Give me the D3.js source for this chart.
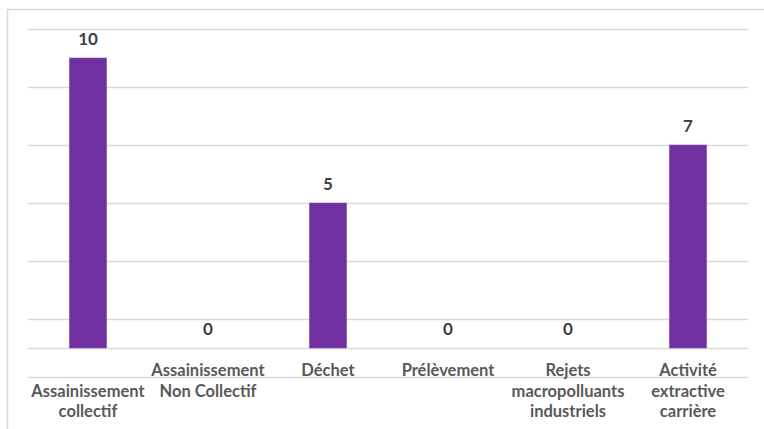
<!DOCTYPE html>
<html>
<head>
<meta charset="utf-8">
<script src="https://cdn.jsdelivr.net/npm/d3@7"></script>
<style>
  html, body { margin: 0; padding: 0; background: #fff; }
  svg { display: block; }
</style>
</head>
<body>
<svg id="chart" width="764" height="429"></svg>
<script>
// ---- data ----
const categories = [
  "Assainissement collectif",
  "Assainissement Non Collectif",
  "Déchet",
  "Prélèvement",
  "Rejets macropolluants industriels",
  "Activité extractive carrière"
];
// wrapped label lines as shown in the picture (first label sits one line lower)
const categoryLines = [
  ["", "Assainissement", "collectif"],
  ["Assainissement", "Non Collectif"],
  ["Déchet"],
  ["Prélèvement"],
  ["Rejets", "macropolluants", "industriels"],
  ["Activité", "extractive", "carrière"]
];
const values = [10, 0, 5, 0, 0, 7];
const gridValues = [-1, 1, 3, 5, 7, 9, 11];
const yDomain = [-1, 11];

// ---- layout ----
const W = 764, H = 429;
const plot = { left: 28, right: 748, top: 29, bottom: 377 };
const svg = d3.select("#chart");
const font = "Lato, 'Open Sans', sans-serif";

// frame
svg.append("path")
  .attr("d", `M7.5,${H} V9.5 H${W}`)
  .attr("fill", "none").attr("stroke", "#d9d9d9").attr("stroke-width", 1.5);

const x = d3.scaleBand().domain(categories).range([plot.left, plot.right]).paddingInner(0).paddingOuter(0);
const y = d3.scaleLinear().domain(yDomain).range([plot.bottom, plot.top]);

// gridlines
const grid = svg.append("g").attr("transform", `translate(${plot.left},0)`)
  .call(d3.axisLeft(y).tickValues(gridValues).tickSize(-(plot.right - plot.left)).tickFormat(""));
grid.select(".domain").remove();
grid.selectAll(".tick line").attr("stroke", "#d9d9d9").attr("stroke-width", 1.3);

// zero axis line
const xAxis = svg.append("g").attr("transform", `translate(0,${y(0)})`)
  .call(d3.axisBottom(x).tickSize(0).tickFormat(""));
xAxis.select(".domain").attr("stroke", "#d9d9d9").attr("stroke-width", 1.3);

// bars
const barW = x.bandwidth() * 0.31;
svg.append("g").selectAll("rect").data(values).join("rect")
  .attr("x", (d, i) => x(categories[i]) + (x.bandwidth() - barW) / 2)
  .attr("width", barW)
  .attr("y", d => y(Math.max(d, 0)))
  .attr("height", d => Math.abs(y(d) - y(0)))
  .attr("fill", "#7030a0")
  .attr("stroke", "#8a55b5").attr("stroke-width", 0.6);

// value labels
svg.append("g").selectAll("text").data(values).join("text")
  .attr("x", (d, i) => x(categories[i]) + x.bandwidth() / 2)
  .attr("y", d => y(d) - 13)
  .attr("text-anchor", "middle")
  .attr("font-family", font).attr("font-weight", "bold").attr("font-size", 17)
  .attr("fill", "#404040")
  .text(d => d);

// category labels
const lab = svg.append("g");
categoryLines.forEach((lines, i) => {
  const t = lab.append("text")
    .attr("x", x(categories[i]) + x.bandwidth() / 2)
    .attr("y", 376)
    .attr("text-anchor", "middle")
    .attr("font-family", font).attr("font-weight", "bold").attr("font-size", 16.5)
    .attr("fill", "#595959");
  lines.forEach((ln, j) => {
    t.append("tspan")
      .attr("x", x(categories[i]) + x.bandwidth() / 2)
      .attr("y", 376 + j * 20.5)
      .text(ln);
  });
});
</script>
</body>
</html>
